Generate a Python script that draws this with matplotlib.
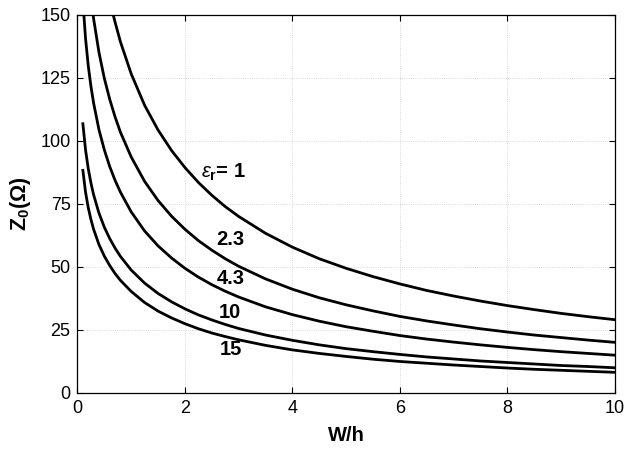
import matplotlib
matplotlib.use("Agg")
from matplotlib import pyplot as plt

plt.rcParams['font.family'] = ['Liberation Sans', 'DejaVu Sans']
plt.rcParams['mathtext.fontset'] = 'custom'
plt.rcParams['mathtext.rm'] = 'Liberation Sans'
plt.rcParams['mathtext.it'] = 'Liberation Sans:italic'
plt.rcParams['mathtext.bf'] = 'Liberation Sans:bold'

# W/h sample points
wh = [0.1, 0.15, 0.2, 0.25, 0.3, 0.4, 0.5, 0.6, 0.7, 0.8, 1.0, 1.25, 1.5,
      1.75, 2, 2.25, 2.5, 2.75, 3, 3.5, 4, 4.5, 5, 5.5, 6, 6.5, 7, 7.5, 8,
      8.5, 9, 9.5, 10]

wh_er1 = [0.66, 0.7, 0.8, 1.0, 1.25, 1.5, 1.75, 2, 2.25, 2.5, 2.75, 3, 3.5,
          4, 4.5, 5, 5.5, 6, 6.5, 7, 7.5, 8, 8.5, 9, 9.5, 10]
z_er1 = [150.5, 147.1, 139.3, 126.6, 114.1, 104.3, 96.2, 89.4, 83.5, 78.4,
         73.9, 70.0, 63.3, 57.8, 53.2, 49.4, 46.1, 43.2, 40.6, 38.4, 36.4,
         34.6, 33.0, 31.5, 30.2, 29.0]

wh_er23 = [0.25, 0.3, 0.4, 0.5, 0.6, 0.7, 0.8, 1.0, 1.25, 1.5, 1.75, 2, 2.25,
           2.5, 2.75, 3, 3.5, 4, 4.5, 5, 5.5, 6, 6.5, 7, 7.5, 8, 8.5, 9, 9.5, 10]
z_er23 = [157.0, 148.5, 135.1, 124.8, 116.5, 109.5, 103.4, 93.6, 83.9, 76.3,
          70.1, 64.9, 60.4, 56.6, 53.2, 50.2, 45.2, 41.1, 37.7, 34.9, 32.5,
          30.3, 28.5, 26.9, 25.4, 24.1, 22.9, 21.9, 20.9, 20.0]

z_er43 = [155.6, 140.6, 129.9, 121.7, 115.0, 104.4, 96.4, 89.8, 84.3, 79.6,
          71.8, 64.2, 58.3, 53.5, 49.4, 45.9, 42.9, 40.3, 38.0, 34.1, 31.0,
          28.4, 26.2, 24.4, 22.7, 21.3, 20.1, 19.0, 18.0, 17.1, 16.3, 15.6, 14.9]
z_er10 = [106.8, 96.4, 89.0, 83.3, 78.6, 71.3, 65.7, 61.2, 57.4, 54.1, 48.7,
          43.5, 39.4, 36.1, 33.3, 30.9, 28.9, 27.1, 25.5, 22.9, 20.8, 19.0,
          17.5, 16.3, 15.2, 14.2, 13.4, 12.6, 12.0, 11.4, 10.8, 10.4, 9.9]
z_er15 = [88.3, 79.6, 73.5, 68.8, 64.9, 58.8, 54.2, 50.5, 47.3, 44.6, 40.2,
          35.8, 32.4, 29.7, 27.4, 25.4, 23.7, 22.3, 21.0, 18.8, 17.0, 15.6,
          14.4, 13.3, 12.4, 11.7, 11.0, 10.4, 9.8, 9.3, 8.9, 8.5, 8.1]

labels = [r'$\varepsilon_{\mathbf{r}}$= 1', '2.3', '4.3', '10', '15']
label_pos = [(2.3, 87.6), (2.58, 60.8), (2.60, 45.4), (2.62, 32.0), (2.65, 17.0)]

fig = plt.figure(figsize=(6.28, 4.53), dpi=100)
ax = fig.add_axes([0.1234, 0.1331, 0.8556, 0.8338])

for x, y in [(wh_er1, z_er1), (wh_er23, z_er23), (wh, z_er43), (wh, z_er10), (wh, z_er15)]:
    ax.plot(x, y, color='black', lw=2.0, solid_joinstyle='round')

for txt, (x, y) in zip(labels, label_pos):
    ax.text(x, y, txt, fontsize=14.5, fontweight='bold', va='center', ha='left')

ax.set_xlim(0, 10)
ax.set_ylim(0, 150)
ax.set_xticks([0, 2, 4, 6, 8, 10])
ax.set_yticks([0, 25, 50, 75, 100, 125, 150])
ax.tick_params(direction='in', top=True, right=True, length=4, labelsize=13,
               width=0.8, pad=5)
ax.grid(True, color='#cccccc', linestyle=':', lw=0.6)
for s in ax.spines.values():
    s.set_linewidth(0.9)

ax.set_xlabel('W/h', fontsize=14.5, fontweight='bold', labelpad=7)
ax.set_ylabel(r'$\mathbf{Z_0(\Omega)}$', fontsize=15.5, labelpad=5)

fig.savefig('out.png', dpi=100)
